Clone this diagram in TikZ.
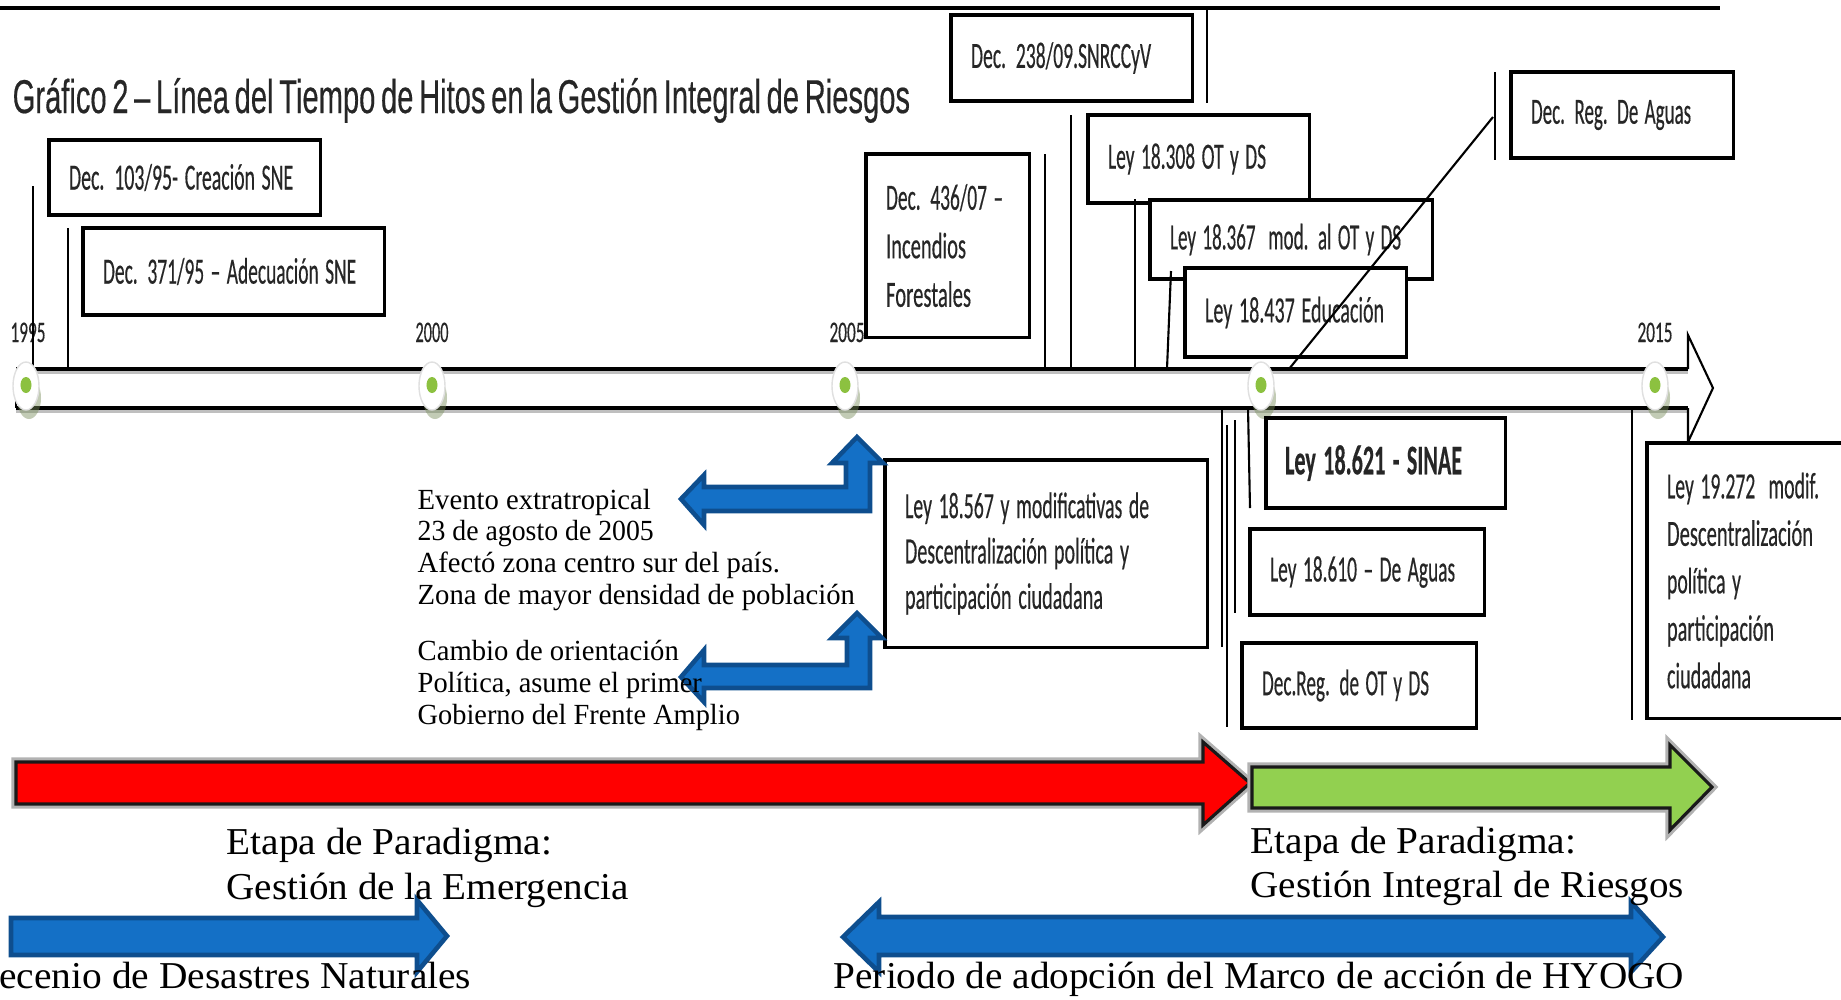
\documentclass[tikz,border=0pt]{standalone}
\usepackage{fontspec}
\usepackage{graphicx}
\setmainfont{Liberation Serif}
\newfontfamily\boxfont[WordSpace=0.45, FakeBold=0.5]{Carlito}
\newfontfamily\titlefont[WordSpace=0.7, FakeBold=0.4]{Liberation Sans}
\newcommand\fw[2]{\resizebox{#1cm}{\height}{#2}}
\definecolor{arrblue}{RGB}{20,112,198}
\definecolor{arrblueD}{RGB}{14,78,142}
\definecolor{lgreen}{RGB}{146,208,80}
\definecolor{dotgreen}{RGB}{140,193,64}
\definecolor{dotshadow}{RGB}{120,140,90}
\begin{document}
\begin{tikzpicture}[x=0.01cm,y=-0.01cm,
  bx/.style={draw=black, line width=0.9pt, fill=white, inner xsep=0.2cm, inner ysep=0pt, outer sep=0pt,
             align=left, anchor=north west, text=black!85, font=\boxfont\fontsize{10.5}{13.5}\selectfont},
  leader/.style={draw=black, line width=0.6pt},
  yearlbl/.style={anchor=base, inner sep=0pt, text=black!85, font=\boxfont\fontsize{8.5}{9}\selectfont},
  sertext/.style={anchor=base west, inner sep=0pt, align=left, text=black},
  bluearr/.style={fill=arrblue, draw=arrblueD, line width=1.3pt, line join=miter},
  shadowline/.style={draw=black!30, line width=2.6pt, line join=miter}]
\useasboundingbox (0,0) rectangle (1841,999);
\clip (0,0) rectangle (1841,999);

% top rule
\coordinate (rl) at (0,8);
\coordinate (rr) at (1720,8);
\draw[line width=1.2pt] (rl) -- (rr);

% title
\node[anchor=base west, inner sep=0pt, text=black!85, font=\titlefont\fontsize{13.5}{15}\selectfont] (title) at (12,113)
  {\fw{8.97}{Gráfico 2 – Línea del Tiempo de Hitos en la Gestión Integral de Riesgos}};

% timeline band
\coordinate (tlt) at (0,369);
\coordinate (tlb) at (0,408);
\fill[white] (16,369) -- (1688,369) -- (1688,335) -- (1713,388) -- (1688,442) -- (1688,408) -- (16,408) -- cycle;
\draw[black!25, line width=1.2pt] (16,372) -- (1688,372);
\draw[black!25, line width=1.2pt] (16,411) -- (1688,411);
\draw[line width=1.1pt] (16,369) -- (1688,369);
\draw[line width=1.1pt] (16,408) -- (1688,408);
\draw[line width=0.6pt, line join=miter] (1688,369) -- (1688,335) -- (1713,388) -- (1688,442) -- (1688,408);
\draw[line width=0.6pt] (16,396) -- (16,408);

% year labels
\node[yearlbl] (y1995) at (28,342) {\fw{0.35}{1995}};
\node[yearlbl] (y2000) at (432,342) {\fw{0.33}{2000}};
\node[yearlbl] (y2005) at (847,342) {\fw{0.35}{2005}};
\node[yearlbl] (y2015) at (1655,342) {\fw{0.35}{2015}};

% boxes above the timeline
\node[bx, text width=2.31cm, minimum height=0.75cm] (b1) at (49,140) {\fw{2.24}{Dec. 103/95- Creación SNE}};
\node[bx, text width=2.61cm, minimum height=0.87cm] (b2) at (83,228) {\fw{2.53}{Dec. 371/95 – Adecuación SNE}};
\node[bx, text width=1.23cm, minimum height=1.83cm, font=\boxfont\fontsize{10.5}{13.8}\selectfont] (b5) at (866,154)
  {\fw{1.17}{Dec. 436/07 –}\\\fw{0.80}{Incendios}\\\fw{0.85}{Forestales}};
\node[bx, text width=2.01cm, minimum height=0.86cm] (b3) at (951,15) {\fw{1.80}{Dec. 238/09.SNRCCyV}};
\node[bx, text width=1.81cm, minimum height=0.88cm] (b4) at (1088,115) {\fw{1.58}{Ley 18.308 OT y DS}};
\node[bx, text width=2.42cm, minimum height=0.79cm] (b6) at (1150,200) {\fw{2.31}{Ley 18.367\ \ mod. al OT y DS}};
\node[bx, text width=1.81cm, minimum height=0.89cm] (b7) at (1185,268) {\fw{1.79}{Ley 18.437 Educación}};
\node[bx, text width=1.82cm, minimum height=0.86cm] (b8) at (1511,72) {\fw{1.60}{Dec. Reg. De Aguas}};

% leaders above
\coordinate (l1) at (33,186);
\coordinate (l2) at (68,228);
\coordinate (l3) at (1045,154);
\coordinate (l4) at (1071,115);
\coordinate (l5) at (1135,199);
\coordinate (l6a) at (1171,271);
\coordinate (l6b) at (1167,369);
\coordinate (l7) at (1207,103);
\coordinate (l8a) at (1495,72);
\coordinate (l8b) at (1495,160);
\coordinate (d1) at (1493,117);
\coordinate (d2) at (1289,369);
\draw[leader] (l1) -- (l1 |- tlt);
\draw[leader] (l2) -- (l2 |- tlt);
\draw[leader] (l3) -- (l3 |- tlt);
\draw[leader] (l4) -- (l4 |- tlt);
\draw[leader] (l5) -- (l5 |- tlt);
\draw[leader] (l6a) -- (l6b);
\draw[leader] (l7 |- rl) -- (l7);
\draw[leader] (l8a) -- (l8b);
\draw[leader] (d1) -- (d2);

% milestone dots
\foreach \x in {26,432,845,1261,1655} {
  \fill[dotshadow, opacity=0.45] (\x+3,398) ellipse [x radius=0.12cm, y radius=0.21cm];
  \fill[white, draw=black!12] (\x,386) ellipse [x radius=0.13cm, y radius=0.24cm];
  \fill[dotgreen] (\x,385) ellipse [x radius=0.055cm, y radius=0.08cm];
}

% boxes below the timeline
\node[bx, text width=2.82cm, minimum height=1.87cm, font=\boxfont\fontsize{10.5}{12.9}\selectfont] (b13) at (885,460)
  {\fw{2.44}{Ley 18.567 y modificativas de}\\\fw{2.24}{Descentralización política y}\\\fw{1.98}{participación ciudadana}};
\node[bx, text width=2.01cm, minimum height=0.90cm, inner xsep=0.19cm, font=\boxfont\bfseries\fontsize{12}{13}\selectfont] (b9) at (1266,418)
  {\fw{1.77}{Ley 18.621 - SINAE}};
\node[bx, text width=1.94cm, minimum height=0.86cm] (b10) at (1250,529) {\fw{1.85}{Ley 18.610 – De Aguas}};
\node[bx, text width=1.94cm, minimum height=0.85cm] (b11) at (1242,643) {\fw{1.67}{Dec.Reg. de OT y DS}};
\node[bx, text width=1.73cm, minimum height=2.75cm, font=\boxfont\fontsize{10.5}{13.5}\selectfont] (b12) at (1647,443)
  {\fw{1.52}{Ley 19.272\ \ modif.}\\\fw{1.46}{Descentralización}\\\fw{0.74}{política y}\\\fw{1.07}{participación}\\\fw{0.84}{ciudadana}};

% leaders below
\coordinate (l9) at (1222,647);
\coordinate (l10a) at (1235,420);
\coordinate (l10b) at (1235,613);
\coordinate (l11a) at (1227,425);
\coordinate (l11b) at (1227,727);
\coordinate (l12a) at (1248,407);
\coordinate (l12b) at (1250,508);
\coordinate (l13) at (1632,720);
\draw[leader] (l9 |- tlb) -- (l9);
\draw[leader] (l10a) -- (l10b);
\draw[leader] (l11a) -- (l11b);
\draw[leader] (l12a) -- (l12b);
\draw[leader] (l13 |- tlb) -- (l13);

% blue bent arrows
\path[bluearr] (681,499) -- (704,475) -- (704,487) -- (846,487) -- (846,463) -- (832,463) -- (857,437)
  -- (883,463) -- (870,463) -- (870,511) -- (704,511) -- (704,525) -- cycle;
\path[bluearr] (681,677) -- (704,650) -- (704,665) -- (847,665) -- (847,638) -- (832,638) -- (857,613)
  -- (882,638) -- (870,638) -- (870,688) -- (704,688) -- (704,702) -- cycle;

% stage arrows
\path[shadowline] (16,762) -- (1203,762) -- (1203,742) -- (1250,783) -- (1203,825) -- (1203,804) -- (16,804) -- cycle;
\path[fill=red, draw=black!90, line width=0.9pt, line join=miter]
  (16,762) -- (1203,762) -- (1203,742) -- (1250,783) -- (1203,825) -- (1203,804) -- (16,804) -- cycle;
\path[shadowline] (1252,767) -- (1670,767) -- (1670,745) -- (1712,787) -- (1670,830) -- (1670,808) -- (1252,808) -- cycle;
\path[fill=lgreen, draw=black!90, line width=0.9pt, line join=miter]
  (1252,767) -- (1670,767) -- (1670,745) -- (1712,787) -- (1670,830) -- (1670,808) -- (1252,808) -- cycle;

% bottom blue arrows
\path[bluearr] (11,918) -- (417,918) -- (417,900) -- (447,936) -- (417,972) -- (417,955) -- (11,955) -- cycle;
\path[bluearr] (843,937) -- (879,902) -- (879,917) -- (1631,917) -- (1631,902) -- (1663,937)
  -- (1631,972) -- (1631,955) -- (879,955) -- (879,972) -- cycle;

% free texts (anchored at the baseline of their last line)
\node[sertext, font=\fontsize{8.3}{8.96}\selectfont] (ev) at (417,604)
  {\fw{2.33}{Evento extratropical}\\\fw{2.36}{23 de agosto de 2005}\\\fw{3.62}{Afectó zona centro sur del país.}\\\fw{4.37}{Zona de mayor densidad de población}};
\node[sertext, font=\fontsize{8.3}{8.96}\selectfont] (cam) at (417,724)
  {\fw{2.61}{Cambio de orientación}\\\fw{2.84}{Política, asume el primer}\\\fw{3.22}{Gobierno del Frente Amplio}};
\node[sertext, font=\fontsize{10.8}{12.6}\selectfont] (et1) at (226,899)
  {\fw{3.25}{Etapa de Paradigma:}\\\fw{4.02}{Gestión de la Emergencia}};
\node[sertext, font=\fontsize{10.8}{12.5}\selectfont] (et2) at (1250,897)
  {\fw{3.25}{Etapa de Paradigma:}\\\fw{4.33}{Gestión Integral de Riesgos}};
\node[sertext, font=\fontsize{10.8}{12}\selectfont] (hyogo) at (833,988)
  {\fw{8.50}{Periodo de adopción del Marco de acción de HYOGO}};
\node[anchor=base east, inner sep=0pt, font=\fontsize{10.8}{12}\selectfont] (dec) at (472,988)
  {\fw{5.00}{Decenio de Desastres Naturales}};
\end{tikzpicture}
\end{document}
